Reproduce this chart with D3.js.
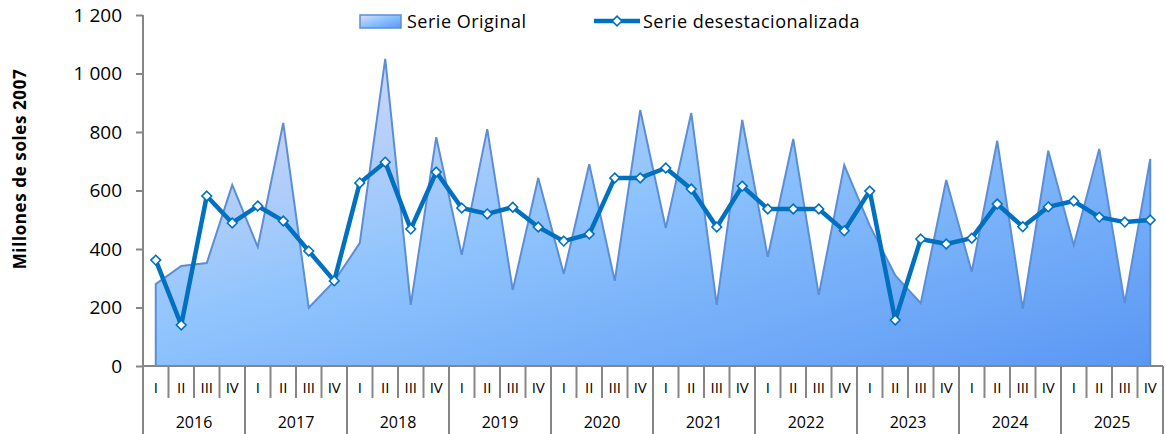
<!DOCTYPE html>
<html lang="es">
<head>
<meta charset="UTF-8">
<title>Serie Original y desestacionalizada</title>
<style>
  body { margin: 0; background: #fff; }
  svg { display: block; font-family: 'Open Sans', 'Noto Sans', sans-serif; }
</style>
</head>
<body>
<svg id="chart" width="1166" height="434"></svg>
<script src="https://d3js.org/d3.v7.min.js"></script>
<script>
const years = ["2016","2017","2018","2019","2020","2021","2022","2023","2024","2025"];
const quarters = ["I","II","III","IV"];
const yTicks = [0, 200, 400, 600, 800, 1000, 1200];

// Serie Original (millones de soles 2007)
const original = [
  280, 342, 352, 619,
  407, 831, 199, 290,
  420, 1050, 209, 782,
  380, 810, 260, 643,
  315, 690, 291, 875,
  472, 865, 209, 841,
  373, 776, 243, 687,
  480, 310, 215, 636,
  322, 770, 195, 736,
  413, 742, 215, 708
];

// Serie desestacionalizada
const desest = [
  362, 140, 581, 489,
  547, 496, 393, 291,
  626, 697, 468, 663,
  540, 520, 543, 475,
  427, 451, 643, 643,
  677, 605, 475, 615,
  537, 537, 537, 462,
  598, 157, 434, 417,
  437, 554, 476, 544,
  564, 509, 492, 499
];

const cats = [];
years.forEach(yr => quarters.forEach(q => cats.push(yr + "-" + q)));

const svg = d3.select("#chart");
const plotL = 143, plotR = 1163, plotT = 15, plotB = 366;

const x = d3.scaleBand().domain(cats).range([plotL, plotR]);
const y = d3.scaleLinear().domain([0, 1200]).range([plotB, plotT]);
const cx = d => x(d) + x.bandwidth() / 2;

// gradient for area
const defs = svg.append("defs");
const grad = defs.append("linearGradient")
  .attr("id", "areaGrad")
  .attr("x1", 0).attr("y1", 0).attr("x2", 1).attr("y2", 1);
grad.append("stop").attr("offset", "0%").attr("stop-color", "#e2dcf6");
grad.append("stop").attr("offset", "45%").attr("stop-color", "#8fc4fd");
grad.append("stop").attr("offset", "100%").attr("stop-color", "#5a97f4");

const axisColor = "#868686";

// area
const area = d3.area()
  .x((d, i) => cx(cats[i]))
  .y0(y(0))
  .y1(d => y(d));

svg.append("path")
  .datum(original)
  .attr("d", area)
  .attr("fill", "url(#areaGrad)")
  .attr("stroke", "#5b8ed6")
  .attr("stroke-width", 2)
  .attr("stroke-linejoin", "miter");

// y axis
const yAxis = d3.axisLeft(y).tickValues(yTicks).tickSize(7)
  .tickFormat(d => d3.format(",")(d).replace(/,/g, " "));
const gy = svg.append("g").attr("transform", `translate(${plotL},0)`).call(yAxis);
gy.select(".domain").remove();
gy.selectAll(".tick line").attr("stroke", axisColor).attr("stroke-width", 2);
gy.selectAll(".tick text")
  .attr("font-size", 19).attr("fill", "#000").attr("x", -21)
  .attr("font-family", "'Open Sans', sans-serif");
svg.append("line")
  .attr("x1", plotL).attr("x2", plotL).attr("y1", plotT).attr("y2", 434)
  .attr("stroke", axisColor).attr("stroke-width", 2);

// x axis line
svg.append("line")
  .attr("x1", plotL).attr("x2", plotR).attr("y1", plotB).attr("y2", plotB)
  .attr("stroke", axisColor).attr("stroke-width", 2);

// separators and labels
const gx = svg.append("g");
cats.forEach((c, i) => {
  const xe = x(c) + x.bandwidth();
  const isYear = (i + 1) % 4 === 0;
  gx.append("line")
    .attr("x1", xe).attr("x2", xe)
    .attr("y1", plotB).attr("y2", isYear ? 434 : 398)
    .attr("stroke", axisColor).attr("stroke-width", 2);
  gx.append("text")
    .attr("x", cx(c)).attr("y", 393)
    .attr("text-anchor", "middle")
    .attr("font-size", 15)
    .text(c.split("-")[1]);
});
years.forEach(yr => {
  const x0 = x(yr + "-I"), x1 = x(yr + "-IV") + x.bandwidth();
  gx.append("text")
    .attr("x", (x0 + x1) / 2).attr("y", 428)
    .attr("text-anchor", "middle")
    .attr("font-size", 16)
    .text(yr);
});

// y axis title
svg.append("text")
  .attr("transform", "translate(26,169) rotate(-90)")
  .attr("text-anchor", "middle")
  .attr("font-size", 17)
  .attr("font-weight", "bold")
  .attr("letter-spacing", 0.6)
  .text("Millones de soles 2007");

// desestacionalizada line
const line = d3.line()
  .x((d, i) => cx(cats[i]))
  .y(d => y(d));

svg.append("path")
  .datum(desest)
  .attr("d", line)
  .attr("fill", "none")
  .attr("stroke", "#0070c0")
  .attr("stroke-width", 4.5)
  .attr("stroke-linejoin", "round");

const diamond = d3.symbol().type(d3.symbolDiamond2).size(60);
svg.append("g").selectAll("path")
  .data(desest)
  .join("path")
  .attr("d", diamond)
  .attr("transform", (d, i) => `translate(${cx(cats[i])},${y(d)})`)
  .attr("fill", "#fff")
  .attr("stroke", "#0070c0")
  .attr("stroke-width", 1.6);

// legend
const lg = svg.append("g");
lg.append("rect")
  .attr("x", 360).attr("y", 15).attr("width", 41).attr("height", 13)
  .attr("fill", "url(#areaGrad)")
  .attr("stroke", "#5b8ed6").attr("stroke-width", 1.5);
lg.append("text")
  .attr("x", 407).attr("y", 28)
  .attr("font-size", 18)
  .attr("letter-spacing", 0.5)
  .text("Serie Original");

lg.append("line")
  .attr("x1", 594).attr("x2", 640).attr("y1", 21).attr("y2", 21)
  .attr("stroke", "#0070c0").attr("stroke-width", 4.5);
lg.append("path")
  .attr("d", diamond)
  .attr("transform", "translate(617,21)")
  .attr("fill", "#fff")
  .attr("stroke", "#0070c0")
  .attr("stroke-width", 1.6);
lg.append("text")
  .attr("x", 643).attr("y", 28)
  .attr("font-size", 18)
  .attr("letter-spacing", 0.5)
  .text("Serie desestacionalizada");
</script>
</body>
</html>
